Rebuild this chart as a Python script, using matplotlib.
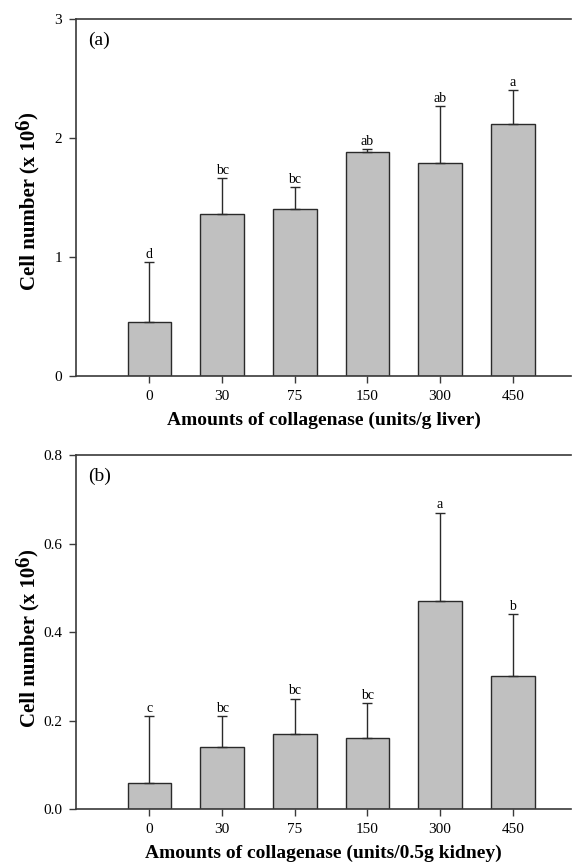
import matplotlib
matplotlib.use("Agg")
import matplotlib.pyplot as plt
import numpy as np

plt.rcParams['font.family'] = ['Liberation Serif', 'DejaVu Serif']

categories = ["0", "30", "75", "150", "300", "450"]

liver_mean = [0.45, 1.36, 1.40, 1.88, 1.79, 2.12]
liver_sd = [0.51, 0.30, 0.19, 0.03, 0.48, 0.28]
liver_letters = ["d", "bc", "bc", "ab", "ab", "a"]

kidney_mean = [0.06, 0.14, 0.17, 0.16, 0.47, 0.30]
kidney_sd = [0.15, 0.07, 0.08, 0.08, 0.20, 0.14]
kidney_letters = ["c", "bc", "bc", "bc", "a", "b"]

W, H = 572, 864
fig = plt.figure(figsize=(W / 100, H / 100), dpi=100)

spine_c = '#3a3a3a'


def ylabel(x_px, bottom_px):
    kw = dict(fontsize=15, fontweight='bold', rotation=90)
    t1 = fig.text(x_px / W, 1 - bottom_px / H, "Cell number (x 10",
                  ha='center', va='bottom', **kw)
    t2 = fig.add_artist(matplotlib.text.Annotation(
        "6", xy=(0.5, 1.0), xycoords=t1, xytext=(-5, 0),
        textcoords='offset pixels', ha='center', va='bottom', **kw))
    fig.add_artist(matplotlib.text.Annotation(
        ")", xy=(0.5, 1.0), xycoords=(t1, t2), ha='center', va='bottom', **kw))


def panel(rect, means, sds, letters, ylim, yticks, yticklabels, xlabel, tag, off):
    ax = fig.add_axes(rect)
    x = np.arange(len(categories))
    ax.bar(x, means, width=0.6, color='#c0c0c0', edgecolor='#2a2a2a', linewidth=1.0, zorder=2)
    ax.errorbar(x, means, yerr=[np.zeros(len(sds)), sds], fmt='none', ecolor='#2a2a2a',
                elinewidth=1.0, capsize=3.5, capthick=1.0, zorder=3)
    for xi, m, s, l in zip(x, means, sds, letters):
        ax.text(xi, m + s + off, l, ha='center', va='bottom', fontsize=10)
    ax.set_xlim(-1.01, 5.8)
    ax.set_ylim(*ylim)
    ax.set_xticks(x)
    ax.set_xticklabels(categories, fontsize=11)
    ax.set_yticks(yticks)
    ax.set_yticklabels(yticklabels, fontsize=11)
    ax.tick_params(axis='both', direction='out', length=5, width=1.0, color=spine_c, pad=5)
    ax.spines['right'].set_visible(False)
    for s in ['left', 'top', 'bottom']:
        ax.spines[s].set_color(spine_c)
        ax.spines[s].set_linewidth(1.2)
    ax.set_xlabel(xlabel, fontsize=14, fontweight='bold', labelpad=6)
    ax.text(0.025, 0.965, tag, transform=ax.transAxes, ha='left', va='top', fontsize=14)
    return ax


panel([0.133, 0.5648, 0.865, 0.4132], liver_mean, liver_sd, liver_letters,
      (0, 3), [0, 1, 2, 3], ["0", "1", "2", "3"],
      'Amounts of collagenase (units/g liver)', '(a)', 0.01)
ylabel(29, 290)

panel([0.133, 0.0633, 0.865, 0.4101], kidney_mean, kidney_sd, kidney_letters,
      (0, 0.8), [0, 0.2, 0.4, 0.6, 0.8], ["0.0", "0.2", "0.4", "0.6", "0.8"],
      'Amounts of collagenase (units/0.5g kidney)', '(b)', 0.003)
ylabel(29, 727)

fig.savefig('out.png', dpi=100)
